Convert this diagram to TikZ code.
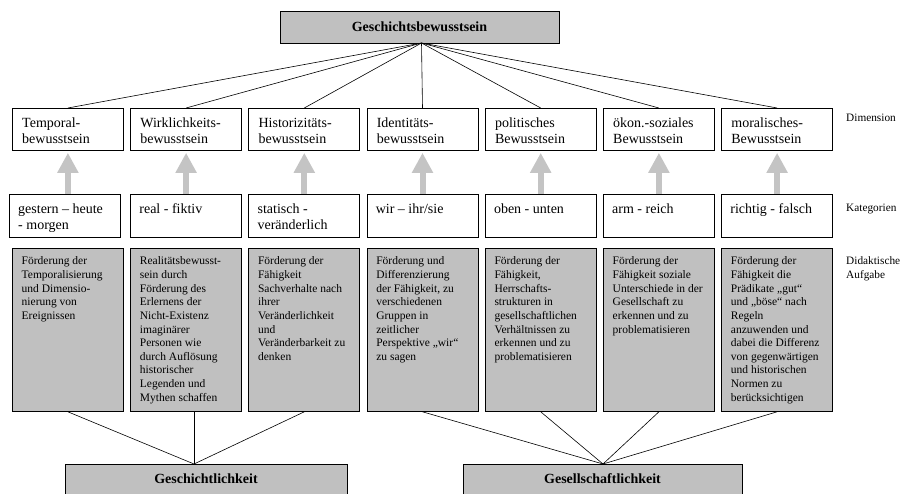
\documentclass[tikz,border=0pt]{standalone}
\usepackage{fontspec}
\setmainfont{Liberation Serif}
\usetikzlibrary{arrows.meta}
\definecolor{boxgray}{RGB}{192,192,192}
\definecolor{arrowgray}{RGB}{196,196,196}
\newcommand{\Ln}[1]{\hbox{#1}}
\begin{document}
\begin{tikzpicture}[x=1pt,y=-1pt,
  box/.style={draw=black,line width=0.8pt,inner sep=0pt,anchor=north west,minimum width=111pt},
  dimbox/.style={box,minimum height=42pt},
  catbox/.style={box,minimum height=43pt},
  didbox/.style={box,fill=boxgray,minimum height=163pt},
  bigbox/.style={draw=black,line width=0.8pt,fill=boxgray,inner sep=0pt},
  bigtxt/.style={font=\fontsize{14}{16}\selectfont,anchor=base west,inner sep=0pt},
  smalltxt/.style={font=\fontsize{11.5}{13.6}\selectfont,anchor=base west,inner sep=0pt},
  sidetxt/.style={font=\fontsize{11.3}{13.2}\selectfont,anchor=base west,inner sep=0pt},
  titletxt/.style={font=\fontsize{14}{16}\selectfont\bfseries,anchor=base,inner sep=0pt},
  conn/.style={draw=black,line width=0.6pt},
  uparrow/.style={draw=arrowgray,line width=6pt,-{Triangle[width=20pt,length=20pt]}}
]
\clip (0,0) rectangle (904,494);
\useasboundingbox (0,0) rectangle (904,494);

% top box
\node[bigbox,minimum width=279pt,minimum height=32pt] (top) at (419.5,27) {};
\node[titletxt] (toptxt) at (419.5,32) {Geschichtsbewusstsein};
\coordinate (topjoin) at (421.5,43);

% columns
\foreach \i/\dimA/\dimB/\catA/\catB in {
  0/Temporal-/bewusstsein/gestern – heute/- morgen,
  1/Wirklichkeits-/bewusstsein/real - fiktiv/,
  2/Historizitäts-/bewusstsein/statisch -/veränderlich,
  3/Identitäts-/bewusstsein/wir – ihr\slash sie/,
  4/politisches/Bewusstsein/oben - unten/,
  5/ökon.-soziales/Bewusstsein/arm - reich/,
  6/moralisches-/Bewusstsein/richtig - falsch/}{
  \pgfmathsetmacro{\L}{12+118.2*\i}
  \pgfmathsetmacro{\LC}{\i==0 ? 9 : \L}
  \node[dimbox] (d\i) at (\L,108) {};
  \node[bigtxt] (dt\i) at (\L+10,128) {\vtop{\Ln{\dimA}\Ln{\dimB}}};
  \node[catbox] (c\i) at (\LC,194) {};
  \node[bigtxt] (ct\i) at (\LC+9,214) {\vtop{\Ln{\catA}\Ln{\catB}}};
  \node[didbox] (g\i) at (\L,248) {};
  \draw[conn] (topjoin) -- (d\i.north);
  \draw[uparrow] (d\i.south |- c\i.north) -- ([yshift=-2pt]d\i.south);
}

% didactic texts
\node[smalltxt] (gt0) at (21.5,265) {\vtop{\Ln{Förderung der}\Ln{Temporalisierung}\Ln{und Dimensio-}\Ln{nierung von}\Ln{Ereignissen}}};
\node[smalltxt] (gt1) at (139.7,265) {\vtop{\Ln{Realitätsbewusst-}\Ln{sein durch}\Ln{Förderung des}\Ln{Erlernens der}\Ln{Nicht-Existenz}\Ln{imaginärer}\Ln{Personen wie}\Ln{durch Auflösung}\Ln{historischer}\Ln{Legenden und}\Ln{Mythen schaffen}}};
\node[smalltxt] (gt2) at (257.9,265) {\vtop{\Ln{Förderung der}\Ln{Fähigkeit}\Ln{Sachverhalte nach}\Ln{ihrer}\Ln{Veränderlichkeit}\Ln{und}\Ln{Veränderbarkeit zu}\Ln{denken}}};
\node[smalltxt] (gt3) at (376.1,265) {\vtop{\Ln{Förderung und}\Ln{Differenzierung}\Ln{der Fähigkeit, zu}\Ln{verschiedenen}\Ln{Gruppen in}\Ln{zeitlicher}\Ln{Perspektive „wir“}\Ln{zu sagen}}};
\node[smalltxt] (gt4) at (494.3,265) {\vtop{\Ln{Förderung der}\Ln{Fähigkeit,}\Ln{Herrschafts-}\Ln{strukturen in}\Ln{gesellschaftlichen}\Ln{Verhältnissen zu}\Ln{erkennen und zu}\Ln{problematisieren}}};
\node[smalltxt] (gt5) at (612.5,265) {\vtop{\Ln{Förderung der}\Ln{Fähigkeit soziale}\Ln{Unterschiede in der}\Ln{Gesellschaft zu}\Ln{erkennen und zu}\Ln{problematisieren}}};
\node[smalltxt] (gt6) at (730.7,265) {\vtop{\Ln{Förderung der}\Ln{Fähigkeit die}\Ln{Prädikate „gut“}\Ln{und „böse“ nach}\Ln{Regeln}\Ln{anzuwenden und}\Ln{dabei die Differenz}\Ln{von gegenwärtigen}\Ln{und historischen}\Ln{Normen zu}\Ln{berücksichtigen}}};

% side labels
\node[sidetxt] (ldim) at (846,122) {Dimension};
\node[sidetxt] (lkat) at (846,212) {Kategorien};
\node[sidetxt] (ldid) at (846,265) {\vtop{\Ln{Didaktische}\Ln{Aufgabe}}};

% bottom boxes
\node[bigbox,minimum width=282pt,minimum height=44pt,anchor=north] (gk) at (206,464) {};
\node[titletxt] (gktxt) at (206,483) {Geschichtlichkeit};
\node[bigbox,minimum width=279pt,minimum height=44pt,anchor=north] (gs) at (602.5,464) {};
\node[titletxt] (gstxt) at (602.5,483) {Gesellschaftlichkeit};
\coordinate (gkjoin) at (194,464);
\coordinate (gsjoin) at (603,464);

\draw[conn] (g0.south) -- (gkjoin);
\draw[conn] (gkjoin |- g1.south) -- (gkjoin);
\draw[conn] (g2.south) -- (gkjoin);
\foreach \i in {3,4,5,6}{
  \draw[conn] (g\i.south) -- (gsjoin);
}
\end{tikzpicture}
\end{document}
